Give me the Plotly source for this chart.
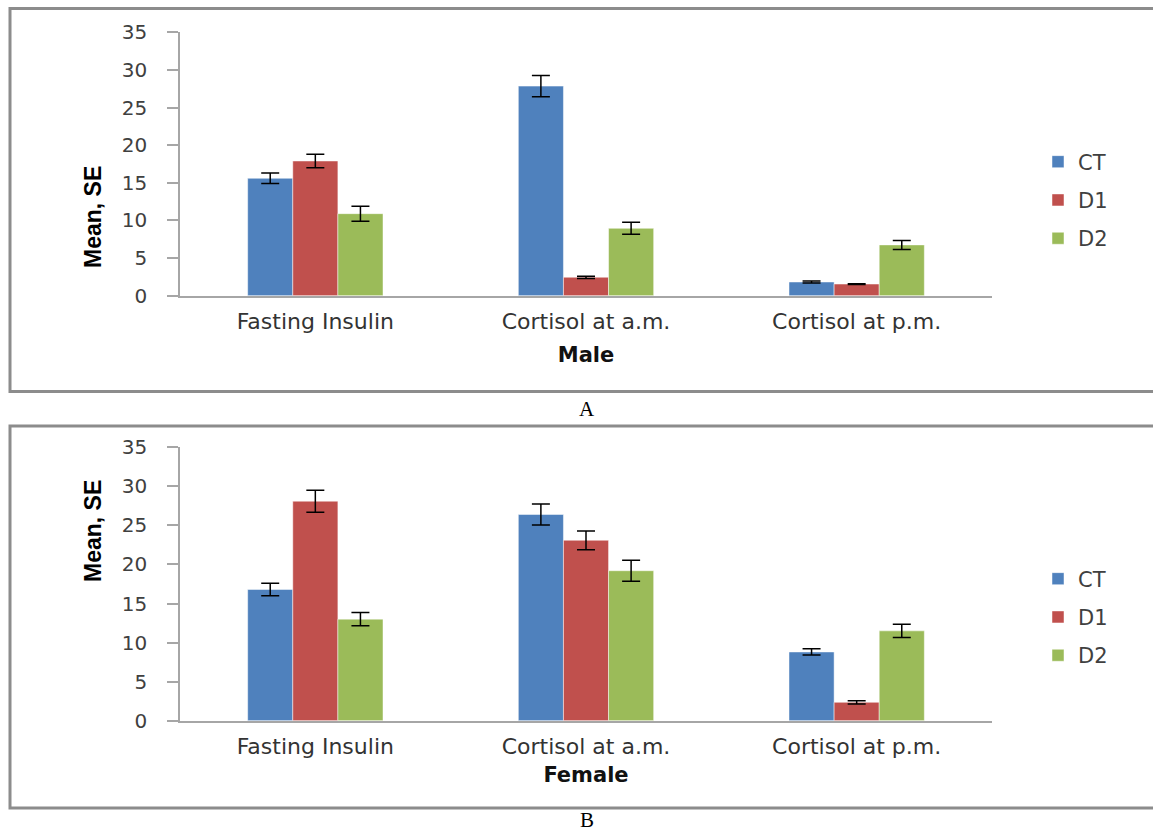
import plotly.graph_objects as go

categories = ["Fasting Insulin", "Cortisol at a.m.", "Cortisol at p.m."]
series_names = ["CT", "D1", "D2"]
colors = ["#4F81BD", "#C0504D", "#9BBB59"]

male_CT = [15.6, 27.85, 1.82]
male_D1 = [17.9, 2.45, 1.55]
male_D2 = [10.9, 8.95, 6.75]
male_CT_se = [0.7, 1.4, 0.12]
male_D1_se = [0.9, 0.15, 0.05]
male_D2_se = [1.0, 0.8, 0.6]

female_CT = [16.8, 26.4, 8.8]
female_D1 = [28.1, 23.1, 2.35]
female_D2 = [13.0, 19.2, 11.5]
female_CT_se = [0.8, 1.35, 0.4]
female_D1_se = [1.4, 1.2, 0.2]
female_D2_se = [0.85, 1.35, 0.85]

y_ticks = [0, 5, 10, 15, 20, 25, 30, 35]

W, H = 1153, 834
def px(x):
    return x / W
def py(y):
    return 1 - y / H

fig = go.Figure()

male = [(male_CT, male_CT_se), (male_D1, male_D1_se), (male_D2, male_D2_se)]
female = [(female_CT, female_CT_se), (female_D1, female_D1_se), (female_D2, female_D2_se)]

for i, (vals, se) in enumerate(male):
    fig.add_trace(go.Bar(
        x=categories, y=vals, name=series_names[i],
        marker=dict(color=colors[i], line=dict(width=0.8, color="rgba(255,255,255,0.6)")),
        error_y=dict(type="data", array=se, visible=True, color="black", thickness=1.5, width=9),
        xaxis="x", yaxis="y", legend="legend", legendgroup=series_names[i] + "a",
    ))
for i, (vals, se) in enumerate(female):
    fig.add_trace(go.Bar(
        x=categories, y=vals, name=series_names[i],
        marker=dict(color=colors[i], line=dict(width=0.8, color="rgba(255,255,255,0.6)")),
        error_y=dict(type="data", array=se, visible=True, color="black", thickness=1.5, width=9),
        xaxis="x2", yaxis="y2", legend="legend2", legendgroup=series_names[i] + "b",
    ))

tick_font = dict(family="DejaVu Sans", size=22, color="#333333")
axis_gray = "#a6a6a6"

def xaxis_cfg(domain, anchor, title, standoff):
    return dict(
        domain=domain, anchor=anchor, showline=True, linecolor=axis_gray, linewidth=1.5,
        showgrid=False, ticks="", tickfont=tick_font, ticklabelstandoff=5, automargin=False,
        title=dict(text="<b>" + title + "</b>", font=dict(family="DejaVu Sans", size=21, color="#111111"), standoff=standoff),
        fixedrange=True,
    )

def yaxis_cfg(domain, anchor):
    return dict(
        domain=domain, anchor=anchor, range=[0, 35], tickvals=y_ticks, showline=True,
        linecolor=axis_gray, linewidth=1.5, showgrid=False, zeroline=False, automargin=False,
        ticks="outside", ticklen=11, tickcolor=axis_gray, tickwidth=1.5,
        tickfont=dict(family="DejaVu Sans", size=20, color="#404040"), ticklabelstandoff=16,
        fixedrange=True,
    )

legend_common = dict(
    xanchor="left", yanchor="middle", traceorder="grouped", tracegroupgap=8,
    font=dict(family="DejaVu Sans", size=21, color="#404040"), bgcolor="rgba(0,0,0,0)",
)

fig.update_layout(
    template="none",
    width=W, height=H, margin=dict(l=0, r=0, t=0, b=0, autoexpand=False),
    paper_bgcolor="white", plot_bgcolor="white",
    barmode="group", bargap=0.5, bargroupgap=0,
    xaxis=xaxis_cfg([px(180), px(992)], "y", "Male", 14),
    yaxis=yaxis_cfg([py(295.7), py(32.3)], "x"),
    xaxis2=xaxis_cfg([px(180), px(992)], "y2", "Female", 9),
    yaxis2=yaxis_cfg([py(720.7), py(447.3)], "x2"),
    legend=dict(x=px(1038), y=py(200), **legend_common),
    legend2=dict(x=px(1038), y=py(617), **legend_common),
    showlegend=True,
)

# panel frames
for (top, bot) in [(8.5, 391.5), (426, 808)]:
    fig.add_shape(type="rect", xref="paper", yref="paper",
                  x0=px(10), x1=px(1160), y0=py(bot), y1=py(top),
                  line=dict(color="#8c8c8c", width=3), layer="below")

# y-axis titles
for yc in [164, 584]:
    fig.add_annotation(text="<b>Mean, SE</b>", xref="paper", yref="paper",
                       x=px(78), y=py(yc), textangle=-90, showarrow=False,
                       font=dict(family="Liberation Sans Narrow, Liberation Sans, Arial, sans-serif", size=23, color="black"))

# panel letters
fig.add_annotation(text="A", xref="paper", yref="paper", x=px(587), y=py(409),
                   showarrow=False, font=dict(family="Liberation Serif", size=21, color="black"))
fig.add_annotation(text="B", xref="paper", yref="paper", x=px(587), y=0, yanchor="bottom",
                   showarrow=False, font=dict(family="Liberation Serif", size=21, color="black"))

fig.write_html("out.html", config={"displayModeBar": False},
               post_script="document.body.style.margin='0';document.body.style.overflow='hidden';")
